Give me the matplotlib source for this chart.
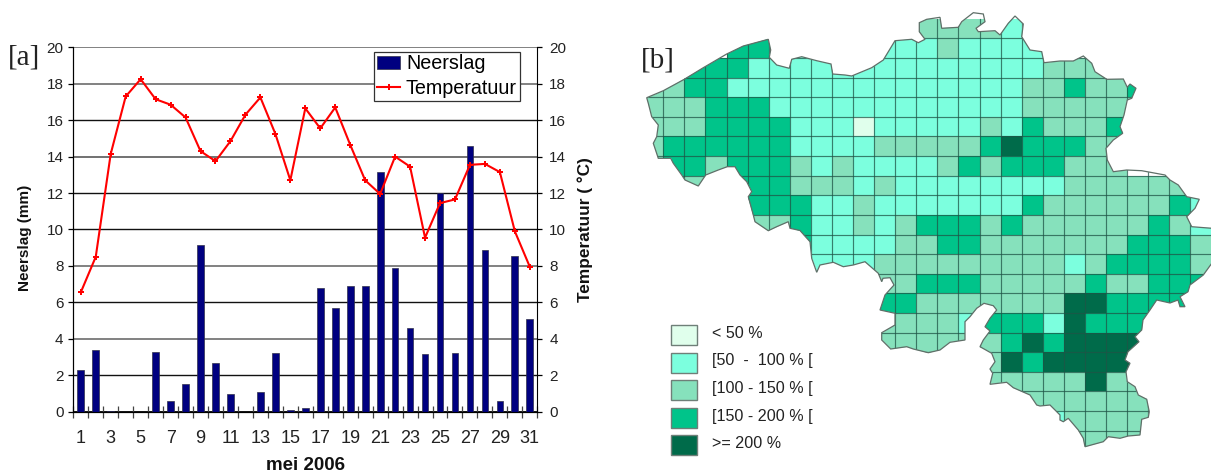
import numpy as np
import matplotlib
matplotlib.use("Agg")
import matplotlib.pyplot as plt
from matplotlib.colors import ListedColormap, BoundaryNorm
from matplotlib.patches import Polygon, Rectangle

plt.rcParams['font.family'] = ['Liberation Sans', 'DejaVu Sans']

days = list(range(1, 32))
neerslag = [2.3, 3.4, 0.05, 0, 0, 3.3, 0.6, 1.5, 9.15, 2.65, 0.95, 0, 1.1, 3.2, 0.1, 0.2,
            6.8, 5.7, 6.9, 6.9, 13.15, 7.9, 4.6, 3.15, 12.0, 3.2, 14.6, 8.9, 0.6, 8.55, 5.1]
temperatuur = [6.55, 8.5, 14.15, 17.3, 18.25, 17.15, 16.85, 16.15, 14.3, 13.75, 14.85, 16.3,
               17.25, 15.25, 12.7, 16.65, 15.55, 16.7, 14.65, 12.7, 11.95, 14.0, 13.45, 9.55,
               11.45, 11.65, 13.55, 13.6, 13.15, 9.9, 7.95]
y_ticks = list(range(0, 21, 2))
grid_colors = {0: '#000000', 2: '#111111', 4: '#777777', 6: '#111111', 8: '#777777', 10: '#111111',
               12: '#111111', 14: '#666666', 16: '#111111', 18: '#777777', 20: '#777777'}

# class of each map cell: 0 outside, 1 <50, 2 50-100, 3 100-150, 4 150-200, 5 >=200
map_rows = [
    "000000000000033332000000000",
    "000044222222223222200000000",
    "004442222222222222233300000",
    "334422222222222222334334000",
    "333444222222222222333333000",
    "333444422212222232433343000",
    "344444422223333345444330000",
    "344344432322223434443330000",
    "043344433323222222223333330",
    "000004442232222222433333342",
    "000003342232344434333333432",
    "000000042222334433333334443",
    "000000002223333333332344443",
    "000000000003344433333433444",
    "000000000004433333335544440",
    "000000000003333244425444000",
    "000000000003333334545555000",
    "000000000000000035455555000",
    "000000000000000033333533000",
    "000000000000000033333333300",
    "000000000000000000023333300",
    "000000000000000000003333000",
]
map_x0, map_dx = 642.25, 21.08
map_y0, map_dy = 18.7, 19.62
class_colors = ['#E0FFEC', '#7CFFDE', '#86E1BC', '#00C48A', '#006B4A']
class_labels = ['< 50 %', '[50  -  100 % [', '[100 - 150 % [', '[150 - 200 % [', '>= 200 %']
legend_tops = [325.3, 352.5, 380, 407.5, 435]

border_x = [646.7, 663.3, 684.3, 703.3, 726.7, 743.3, 768.3, 770.7, 769.3, 776.7, 789.3, 791.7, 801.7,
            816.7, 831, 832.7, 845, 851.7, 871.7, 883.3, 895, 911.7, 918.3, 925, 919.3, 919.3, 926.7,
            940, 941.7, 958.3, 961.7, 973.3, 983.3, 985, 976, 978.3, 995, 1000, 1008.3, 1015, 1023.3,
            1021.7, 1030, 1041.7, 1044, 1060, 1073.3, 1083.3, 1091.7, 1095, 1106.7, 1123.3, 1127.3,
            1130, 1136, 1131.7, 1127.3, 1124, 1120, 1122.7, 1113.3, 1106, 1107.3, 1113.3, 1126.7,
            1141.7, 1165, 1170, 1178.3, 1186.7, 1199.3, 1195, 1186.7, 1191.7, 1212, 1212, 1203.3,
            1190, 1188, 1180, 1185, 1180, 1178, 1170, 1156.7, 1150, 1143, 1141.7, 1135, 1139, 1128,
            1125, 1130, 1126, 1127.3, 1135, 1138.3, 1146.7, 1149.3, 1148.3, 1141.7, 1140, 1128.3,
            1120, 1108.3, 1103.3, 1085, 1083.3, 1078.3, 1068.3, 1063.3, 1060, 1060, 1050, 1040,
            1036.7, 1030, 1013.3, 1006.7, 990, 992.7, 990, 995, 991.7, 980, 983.3, 990, 985, 990,
            996.7, 993.3, 984, 976.7, 970, 965, 965, 950, 940, 928.3, 913.3, 906.7, 890.7, 881.7,
            881.7, 895, 895, 880, 885, 894, 890, 883, 881.7, 878.3, 865, 853.3, 843.3, 833.3, 820,
            816.7, 811.7, 810, 800, 790, 788.3, 776.7, 768.3, 755, 753.3, 748.3, 751.7, 746.7, 740,
            735, 727.3, 718.3, 705.7, 698.3, 685, 681.7, 673.3, 670.7, 658.3, 653.3, 656.7, 658.3,
            651.7, 648.3]
border_y = [97.7, 90.7, 79.3, 67.7, 54, 46, 39.3, 50, 57.3, 65, 68.3, 59.3, 56.7,
            60.7, 64, 74, 75, 76, 67.7, 60, 40.7, 39.3, 42.7, 39.3, 31.7, 22.7, 19.3,
            17.3, 28.3, 27.3, 21.7, 12.7, 14, 21.7, 28.3, 31.7, 30.7, 35, 23.3, 16, 24,
            36.7, 50, 51.7, 62.7, 61, 61, 56, 63.3, 71.7, 79.3, 79, 87.3,
            84, 88.3, 98.3, 100, 115, 126.7, 133.3, 140, 148.3, 160, 171.7, 170,
            170.7, 175, 180, 185, 196.7, 199.3, 208.3, 216.7, 226.7, 228.3, 263, 275,
            285, 291.7, 296.7, 306.7, 306.7, 300, 303, 300, 310, 320, 330, 336.7, 341.7, 351.7,
            360, 363.3, 371.7, 381.7, 386.7, 395, 399.3, 411.7, 417.3, 419.3, 435, 436,
            438.3, 436.7, 441.7, 446.7, 438.3, 430, 418.3, 421.7, 420, 415, 405, 406,
            405, 395, 387.7, 382.3, 384.3, 373.3, 369, 361.7, 353.3, 346.7, 340, 331, 326.7, 318.3,
            310, 305.7, 303.3, 308.3, 316.7, 321.7, 340, 342.3, 350, 352.7, 349, 346.7, 349, 340,
            332.7, 325, 313.3, 310, 295, 285, 277.7, 278.3, 281.7, 273.3, 261.7, 265, 266.7, 262.3, 265,
            272.3, 258.3, 241.7, 230.5, 228.3, 221.7, 226.7, 230.7, 221.7, 215, 196.7, 191.7, 181.7, 175,
            166.7, 166.7, 170, 175, 186, 180, 175, 163.3, 158.3, 158.3, 143.3, 136.7, 125,
            116.7, 103.3]

W, H = 1211, 476
fig = plt.figure(figsize=(W / 100, H / 100), dpi=100, facecolor='white')

# ---------- panel a ----------
L, R, T, B = 73.3, 537.3, 47.3, 411.7
ax = fig.add_axes([L / W, 1 - B / H, (R - L) / W, (B - T) / H])
ax.set_xlim(0.5, 31.5)
ax.set_ylim(0, 20)
ax.bar(days, neerslag, width=0.45, color='#000080', edgecolor='#30304a', linewidth=0.5,
       label='Neerslag', zorder=3)
for v in y_ticks:
    ax.axhline(v, color=grid_colors[v], lw=1.0 if grid_colors[v] == '#111111' else 1.3, zorder=1)
ax.set_yticks(y_ticks)
ax.set_xticks(days[::2])
ax.set_xticks(np.arange(0.5, 32), minor=True)
ax.tick_params(axis='x', which='major', length=0, labelsize=13, pad=13.5, labelcolor='#222222')
ax.tick_params(axis='x', which='minor', length=8.4, direction='inout', width=0.9, color='#444444')
ax.tick_params(axis='y', length=3.6, width=0.9, labelsize=11, pad=3.5, labelcolor='#222222')
ax.spines['top'].set_visible(False)
ax.spines['right'].set_visible(False)
ax.set_ylabel('Neerslag (mm)', fontsize=11, fontweight='bold', color='#111111')
ax.yaxis.label.set_va('center')
ax.yaxis.set_label_coords((25 - L) / (R - L), 0.477)
ax.set_xlabel('mei 2006', fontsize=13.5, fontweight='bold', color='#111111')
ax.xaxis.label.set_va('center')
ax.xaxis.set_label_coords(0.5, -(466 - B) / (B - T))

ax2 = ax.twinx()
ax2.set_ylim(0, 20)
ax2.set_yticks(y_ticks)
ax2.plot(days, temperatuur, color='#FF0000', lw=1.5, marker='P', ms=4.8, mew=0,
         label='Temperatuur', zorder=5)
ax2.tick_params(axis='y', length=3.6, width=0.9, labelsize=11, pad=5, labelcolor='#222222')
ax2.spines['top'].set_visible(False)
ax2.set_ylabel('Temperatuur ( °C)', fontsize=12.4, fontweight='bold', color='#111111', rotation=90)
ax2.yaxis.label.set_va('center')
ax2.yaxis.set_label_coords((585 - L) / (R - L), 0.5)

h1, l1 = ax.get_legend_handles_labels()
h2, l2 = ax2.get_legend_handles_labels()
leg = ax2.legend(h1 + h2, l1 + l2, loc='upper left',
                 bbox_to_anchor=((374 - L) / (R - L), (B - 51.7) / (B - T)),
                 fontsize=14.2, fancybox=False, framealpha=1, edgecolor='#333333',
                 borderpad=0.14, handlelength=1.2, handletextpad=0.28, labelspacing=0.3,
                 borderaxespad=0)
leg.get_frame().set_linewidth(0.9)
leg.set_zorder(10)

# ---------- panel b and labels, in the reference's map coordinates ----------
mp = fig.add_axes([0, 0, 1, 1], facecolor='none')
mp.set_xlim(0, W)
mp.set_ylim(H, 0)
mp.axis('off')

cells = np.array([[int(c) for c in row] for row in map_rows], dtype=float)
cells = np.ma.masked_equal(cells, 0)
xe = map_x0 + map_dx * np.arange(cells.shape[1] + 1)
ye = map_y0 + map_dy * np.arange(cells.shape[0] + 1)
outline = Polygon(np.column_stack([border_x, border_y]), closed=True, transform=mp.transData,
                  facecolor='none', edgecolor='#5f6f68', lw=0.9, zorder=4)
cmap = ListedColormap(class_colors)
norm = BoundaryNorm(np.arange(0.5, 6.5), cmap.N)
mesh = mp.pcolormesh(xe, ye, cells, cmap=cmap, norm=norm, zorder=2)
mp.add_patch(outline)
mesh.set_clip_path(outline)
for x in xe[1:-1]:
    ln, = mp.plot([x, x], [ye[0], ye[-1]], color='#1f5547', lw=0.85, alpha=0.75, zorder=3)
    ln.set_clip_path(outline)
for y in ye[1:-1]:
    ln, = mp.plot([xe[0], xe[-1]], [y, y], color='#1f5547', lw=0.85, alpha=0.75, zorder=3)
    ln.set_clip_path(outline)

for col, lab, top in zip(class_colors, class_labels, legend_tops):
    mp.add_patch(Rectangle((670.7, top), 26.6, 20, facecolor=col, edgecolor='#6f7f78', lw=1.0))
    mp.text(711.7, top + 8.5, lab, fontsize=11.6, va='center', ha='left', color='#222222')

mp.text(8, 57.5, '[a]', family='Liberation Serif', fontsize=21, va='center', color='#222222')
mp.text(640.5, 60, '[b]', family='Liberation Serif', fontsize=21, va='center', color='#222222')

fig.savefig('out.png', dpi=100, facecolor='white')
